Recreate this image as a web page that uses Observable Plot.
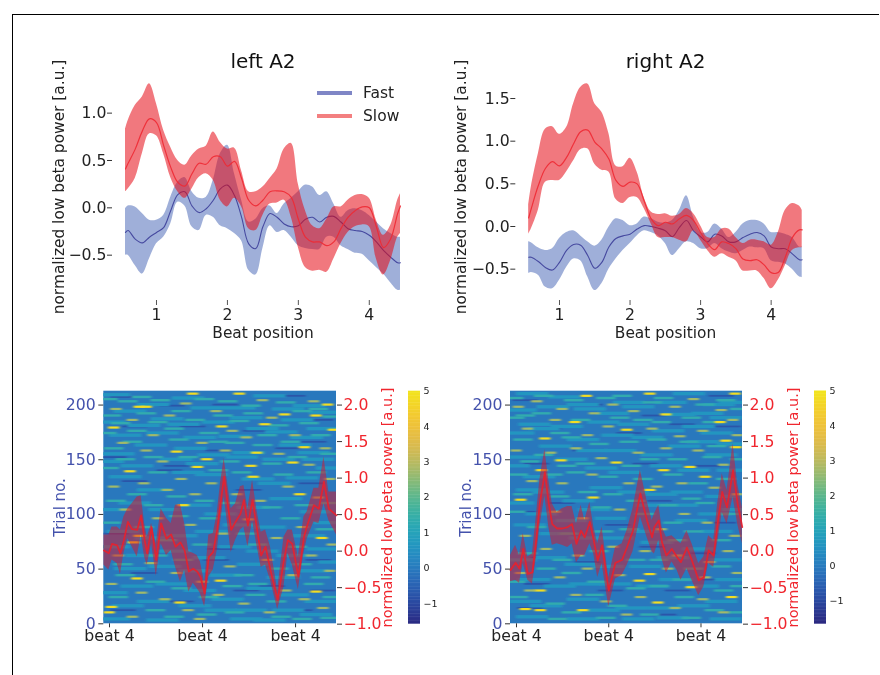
<!DOCTYPE html>
<html><head><meta charset="utf-8">
<script src="https://cdn.jsdelivr.net/npm/d3@7"></script>
<script src="https://cdn.jsdelivr.net/npm/@observablehq/plot@0.6"></script>
<style>
html,body{margin:0;padding:0;background:#fff;}
#page{position:relative;width:880px;height:675px;overflow:hidden;font-family:"DejaVu Sans",sans-serif;filter:blur(0.5px);}
#rule{position:absolute;left:12px;top:14px;width:866px;height:661px;border-top:1px solid #000;border-left:1px solid #000;}
.panel{position:absolute;}
.panel svg{display:block;overflow:visible;}
.lg{position:absolute;font-size:15.5px;color:#222;line-height:18px;}
.sw{position:absolute;height:4px;width:35px;}
</style></head><body>
<div id="page"><div id="rule"></div></div>
<script>
// ---------- top panels: beat position grid ----------
const beatGrid=[.563,.6,.7,.8,.9,1,1.1,1.2,1.3,1.4,1.5,1.6,1.7,1.8,1.9,2,2.1,2.2,2.3,2.4,2.5,2.6,2.7,2.8,2.9,3,3.1,3.2,3.3,3.4,3.5,3.6,3.7,3.8,3.9,4,4.1,4.2,4.3,4.4,4.44];
const leftSlow=[.41,.47,.62,.81,.94,.90,.66,.43,.27,.23,.36,.47,.46,.54,.54,.44,.49,.31,.08,.02,.08,.17,.18,.17,.11,-.12,-.31,-.36,-.36,-.40,-.36,-.22,-.10,-.03,.01,0,-.20,-.42,-.33,-.06,.02];
const leftSlowHi=[.83,.92,1.08,1.17,1.31,1.10,.82,.64,.50,.45,.55,.62,.65,.80,.69,.62,.63,.39,.17,.17,.22,.31,.41,.62,.68,.25,-.03,-.19,-.22,-.12,.01,.01,.08,.13,.14,.10,-.13,-.29,-.19,.08,.15];
const leftSlowLo=[.17,.20,.31,.57,.78,.76,.57,.32,.17,.10,.20,.32,.36,.29,.08,.01,.10,.01,-.22,-.24,-.08,.04,.05,.08,-.10,-.42,-.63,-.67,-.66,-.68,-.54,-.38,-.26,-.20,-.18,-.20,-.54,-.71,-.56,-.31,-.27];
const leftFast=[-.26,-.24,-.33,-.37,-.31,-.26,-.21,-.03,.14,.17,.02,-.05,-.01,.08,.20,.24,.13,-.10,-.38,-.43,-.20,-.06,-.10,-.17,-.20,-.19,-.12,-.10,-.15,-.10,-.09,-.15,-.22,-.24,-.25,-.29,-.36,-.45,-.52,-.58,-.58];
const leftFastHi=[-.01,.02,.01,-.06,-.13,-.13,-.08,.11,.27,.32,.17,.10,.11,.29,.57,.66,.36,.08,-.15,-.12,-.01,.02,-.06,.04,.10,.17,.24,.22,.13,.17,.04,-.10,-.03,-.01,-.03,-.08,-.15,-.22,-.27,-.31,-.31];
const leftFastLo=[-.50,-.50,-.61,-.70,-.54,-.38,-.31,-.17,.06,.02,-.20,-.24,-.08,-.10,-.19,-.22,-.27,-.35,-.66,-.71,-.43,-.19,-.26,-.24,-.31,-.40,-.43,-.44,-.44,-.31,-.31,-.40,-.44,-.48,-.49,-.56,-.63,-.70,-.79,-.87,-.87];

const rightSlow=[.10,.21,.48,.68,.76,.71,.81,.97,1.11,1.13,.99,.91,.79,.54,.47,.52,.50,.30,.09,.01,.05,.03,.09,.13,.07,-.07,-.20,-.27,-.18,-.20,-.26,-.38,-.40,-.39,-.45,-.54,-.54,-.36,-.13,-.04,-.04];
const rightSlowHi=[.25,.46,.85,1.14,1.17,1.08,1.16,1.44,1.63,1.67,1.44,1.34,1.09,.71,.70,.80,.64,.34,.17,.14,.15,.12,.14,.21,.15,.01,-.13,-.13,-.03,-.03,-.13,-.20,-.16,-.16,-.18,-.22,-.07,.19,.27,.24,.19];
const rightSlowLo=[-.09,-.03,.19,.52,.54,.54,.64,.77,.90,.91,.73,.66,.64,.32,.27,.34,.34,.21,.03,-.13,-.13,-.13,-.16,-.18,-.05,-.16,-.28,-.36,-.32,-.36,-.40,-.52,-.52,-.52,-.61,-.73,-.63,-.46,-.28,-.25,-.25];
const rightFast=[-.36,-.36,-.41,-.48,-.51,-.42,-.28,-.21,-.22,-.34,-.49,-.42,-.24,-.14,-.11,-.09,-.03,.01,0,-.02,-.05,-.12,-.01,.07,-.05,-.12,-.18,-.09,-.11,-.18,-.18,-.13,-.09,-.07,-.11,-.24,-.26,-.26,-.32,-.39,-.39];
const rightFastHi=[-.18,-.19,-.25,-.28,-.26,-.14,-.07,-.05,-.11,-.18,-.23,-.16,-.01,.09,.07,.01,.03,.11,.09,.05,.04,.07,.19,.36,.11,-.07,-.07,.03,-.03,-.13,-.07,.03,.07,.07,.03,-.07,-.07,-.09,-.13,-.24,-.24];
const rightFastLo=[-.55,-.54,-.57,-.71,-.73,-.63,-.48,-.38,-.40,-.59,-.75,-.67,-.50,-.38,-.28,-.20,-.11,-.05,-.07,-.11,-.20,-.34,-.26,-.18,-.20,-.26,-.26,-.20,-.26,-.30,-.32,-.28,-.24,-.25,-.26,-.40,-.42,-.44,-.50,-.59,-.60];

// ---------- bottom panels: power curve over trials ----------
const lowerLeftBeats=[3.76,3.97,4.11,4.33,4.47,4.62,4.79,4.97,5.19,5.36,5.51,5.62,5.81,6.01,6.22,6.45,6.65,6.84,7.05,7.23,7.41,7.60,7.77,7.91,8.09,8.27,8.46,8.63,8.77,8.93,9.06,9.23,9.42,9.63,9.78,9.95,10.15,10.35,10.52,10.71,10.92,11.23,11.50,11.67,11.86,12.12,12.36,12.50,12.79,13.00,13.22,13.43,13.76];
const lowerLeftPower=[.01,-.03,.10,.08,-.03,.15,.40,.30,.29,.49,.15,-.03,.33,-.12,.38,.17,.23,.06,.12,.01,-.28,-.24,-.28,-.35,-.58,-.08,-.01,.29,.65,1.02,.70,.29,.40,.51,.70,.35,.70,.29,-.06,.06,-.26,-.67,-.12,.15,.10,-.35,.19,.35,.63,.58,.95,.58,.49];
const lowerLeftHi=[.22,.22,.33,.33,.29,.47,.58,.65,.74,.76,.38,.19,.38,.10,.58,.45,.38,.63,.64,.38,-.01,-.03,-.06,-.15,-.44,.22,.24,.51,.92,1.27,.97,.58,.65,.88,.90,.58,.97,.54,.26,.29,.06,-.54,.19,.29,.29,-.08,.47,.54,.86,.86,1.29,.81,.81];
const lowerLeftLo=[-.19,-.26,-.12,-.17,-.32,-.03,.17,.06,-.08,.22,-.08,-.19,.10,-.34,.10,-.06,.01,-.22,-.42,-.26,-.56,-.44,-.51,-.58,-.76,-.35,-.26,.01,.38,.74,.42,-.02,.15,.29,.33,.06,.42,.06,-.22,-.19,-.40,-.80,-.49,-.03,-.19,-.53,-.03,.17,.40,.38,.65,.42,.22];

const lowerRightBeats=[3.74,3.96,4.13,4.29,4.49,4.69,4.87,5.01,5.23,5.40,5.55,5.76,5.98,6.22,6.41,6.60,6.80,6.96,7.18,7.35,7.52,7.71,8.0,8.29,8.58,8.79,9.05,9.37,9.66,9.88,9.98,10.17,10.31,10.50,10.74,10.96,11.13,11.39,11.61,11.90,12.12,12.33,12.55,12.74,12.92,13.13,13.39,13.59,13.79];
const lowerRightPower=[-.26,-.16,-.24,.03,-.31,-.29,.19,.65,1.08,.65,.37,.31,.31,.33,.37,.10,.28,.19,.40,.15,-.13,.08,-.54,-.16,-.12,.05,.28,.79,.42,.19,.33,.42,.12,-.06,.03,-.08,-.15,.05,-.13,-.40,-.36,.01,-.06,.42,.81,.60,1.11,.65,.33];
const lowerRightHi=[-.06,.08,-.06,.24,-.08,-.04,.51,.97,1.39,.97,.65,.53,.58,.61,.61,.37,.63,.42,.67,.33,.10,.33,-.36,.05,.10,.28,.58,1.11,.69,.42,.51,.63,.33,.19,.21,.15,.10,.28,.10,-.17,-.08,.21,.15,.69,1.06,.83,1.47,.92,.60];
const lowerRightLo=[-.42,-.40,-.44,-.17,-.40,-.45,-.08,.33,.76,.33,.08,.10,.08,.05,.10,-.16,-.06,-.06,.10,-.04,-.36,-.17,-.76,-.38,-.33,-.20,-.01,.47,.19,-.01,-.04,.15,-.11,-.30,-.15,-.26,-.40,-.24,-.40,-.61,-.49,-.17,-.22,.15,.53,.37,.74,.37,.10];

// ---------- trial image: streaks, [beat, trial] ----------
const leftHot=[[6.9,157],[7.6,210],[8.8,39],[9.6,210],[11.9,147],[8.2,150],[10.1,144],[7.05,19],[5.6,198],[8.85,180],[10.7,182],[4.1,15],[4.2,179],[13.4,200],[11.55,191],[7.8,143],[4,10],[5.2,41],[10.35,156],[12.9,29],[4.9,139],[5.3,80],[13.15,78],[7.2,108],[13.65,177],[5.3,198],[12.9,190],[10.2,134],[12.4,161],[5.05,74],[12.2,118]];
const leftWarm=[[4.3,196],[5,186],[5.9,172],[6.6,190],[7.3,201],[8.6,194],[9.3,176],[10.6,204],[11,188],[12,172],[12.8,203],[13.3,160],[4.6,165],[5.6,158],[6.3,148],[7.1,132],[8,165],[9,158],[9.9,170],[11.3,155],[12.6,145],[13.5,132],[4.2,125],[5.5,128],[6.5,122],[7.7,118],[8.4,128],[9.5,118],[10.5,112],[11.7,125],[13,115],[4.7,104],[6.1,96],[7.5,90],[8.9,82],[10,95],[11.2,78],[12.3,88],[13.6,72],[4.4,62],[5.8,55],[6.9,46],[8,38],[9.2,52],[10.8,58],[11.9,44],[12.7,62],[13.5,48],[4.1,36],[5.4,28],[6.4,22],[7.4,12],[8.7,26],[9.8,18],[10.9,10],[11.6,30],[12.4,22],[13.2,14],[5,6],[7.9,4]];
const leftTeal=[[3.95,205],[4.8,203],[5.4,207],[6.2,204],[8.1,205],[9.1,203],[10.1,199],[11.6,202],[13,196],[4.1,190],[5.6,192],[7.1,194],[8.9,190],[10.2,192],[12.3,194],[13.6,189],[4.5,183],[6.1,184],[7.7,186],[9.6,185],[11.3,181],[12.6,183],[3.9,174],[5.2,176],[6.8,178],[8.3,174],[10.8,172],[11.8,166],[13.1,172],[4.2,160],[5,166],[7,168],[8.7,166],[9.4,165],[10.6,163],[13.5,155],[4.7,150],[5.9,152],[7.4,152],[9.2,148],[11,146],[12.1,152],[4,142],[6.1,138],[8.7,140],[9.7,138],[11.5,136],[12.9,138],[5.2,118],[6.9,116],[8.1,112],[9.2,110],[11,106],[12.4,108],[13.5,110],[4.3,112],[5.9,108],[7,98],[8.3,96],[9.9,82],[11.8,96],[4.1,92],[5.5,88],[6.5,76],[8,72],[10.4,72],[12.1,70],[13.3,86],[4.6,54],[6.1,62],[7.2,58],[9.8,44],[10.4,36],[11.3,50],[12.3,54],[13.1,42],[4.7,44],[6,38],[7.1,32],[8.3,24],[9.3,34],[10.3,26],[11.2,20],[12.8,36],[13.6,24],[4.4,24],[6,12],[8.2,8],[9.4,10],[11.4,6],[12.3,4],[13.5,5],[6.8,6]];
const leftMid=[[4.2,209],[5.9,200],[7.4,206],[9.6,197],[10.9,208],[12.6,199],[4.9,194],[6.5,187],[8.2,197],[9.9,188],[11.7,196],[13.3,193],[4,184],[5.5,181],[7.2,182],[8.7,184],[10.6,178],[12.1,186],[13.2,178],[4.7,172],[6.3,174],[7.9,170],[9.4,171],[11.4,175],[12.5,170],[4.4,155],[5.8,163],[7.5,160],[8.5,154],[10,156],[12,163],[13,150],[3.95,148],[5.2,144],[6.9,150],[8,146],[9.7,152],[11.3,150],[12.8,156],[4.7,134],[5.9,122],[7.4,138],[8.4,136],[10.4,132],[11.1,128],[12.3,133],[13.6,142],[4.1,104],[5.1,110],[6.4,104],[7.7,108],[8.8,100],[10.2,106],[11.6,114],[12.9,102],[4.6,84],[5.8,78],[7.1,80],[8.4,84],[9.6,90],[10.9,88],[12.6,80],[13.5,92],[4.2,70],[5.4,62],[6.8,66],[8.3,60],[9.4,70],[10.6,66],[11.9,62],[13.2,68],[4.9,50],[6.4,52],[7.7,48],[9,44],[10.2,54],[11.5,42],[12.8,48],[13.7,56],[4.1,28],[5.2,34],[6.7,36],[7.9,30],[9.1,22],[10.6,32],[11.9,26],[13.1,20],[4.8,16],[5.9,20],[7.7,16],[8.8,12],[10.1,12],[11.7,12],[12.9,8],[4.2,4],[6.3,3],[9.9,4],[10.9,3]];
const leftDark=[[4.6,207],[6.7,199],[9,200],[11.9,208],[13.1,186],[5.1,180],[7.6,180],[10.3,176],[12.8,166],[4.2,152],[6.6,140],[8.7,158],[11.7,160],[5.1,130],[6.9,144],[10,122],[12.7,128],[4.3,82],[8.8,68],[13,58],[5.5,46],[8.6,58],[11,34],[4.6,12],[7.1,20],[9.9,30],[12.2,12],[13.2,30]];

const rightHot=[[5.25,169],[6.55,184],[9.8,210],[10.5,191],[11.55,143],[9.8,122],[4.2,113],[10.15,19],[4.4,13],[9.8,45],[13.5,210],[12.85,184],[6.9,12],[5.95,149],[5.1,140],[8.8,177],[8.35,147],[9.35,39],[13.1,167],[7.35,115],[5.05,12],[13.35,24],[10.4,140],[5.05,30],[12.2,134],[7.05,208],[11.6,33],[13.55,161]];
const rightWarm=[[4.1,198],[4.9,203],[6,196],[7.4,192],[8.2,200],[9.1,194],[10.9,198],[11.7,205],[12.9,195],[13.4,186],[4.5,178],[5.7,186],[7.1,172],[8,180],[9.9,178],[11.1,171],[12.1,176],[13.6,172],[4,158],[5.5,156],[6.6,160],[7.7,151],[9.3,156],[10.5,160],[11.9,158],[13,145],[4.7,130],[6,128],[7.3,136],[8.9,128],[10.1,125],[11.2,128],[12.6,124],[13.6,118],[5.7,102],[6.9,96],[8.5,104],[10.3,86],[11.3,100],[12.3,92],[13.5,80],[4.4,80],[5.3,68],[6.7,62],[8.2,70],[9.6,66],[11,62],[12.4,56],[13.2,66],[4.2,46],[5.9,42],[7.1,50],[8.5,44],[10.6,50],[12.2,42],[13.6,46],[4.6,30],[6.6,26],[7.9,20],[9.4,24],[10.9,14],[12.1,22],[13,10],[8.8,8]];
const rightTeal=[[3.9,206],[4.4,190],[5.2,208],[6.5,204],[7.9,206],[8.6,208],[9.9,202],[10.4,206],[12.2,200],[13.1,204],[3.95,188],[5.1,192],[6.8,186],[8.5,188],[9.5,186],[10.3,184],[11.6,188],[12.5,184],[13.7,196],[4.3,168],[5.9,174],[6.4,170],[7.6,164],[8.9,166],[10.1,168],[11.5,166],[12.7,162],[13.7,150],[4.6,148],[5.2,154],[6.2,144],[7,146],[9,144],[9.8,150],[11,150],[12.5,152],[4.1,136],[5.6,136],[6.6,138],[8,134],[9.5,132],[10.8,136],[11.9,128],[13.1,132],[4.3,118],[5.9,116],[7.1,120],[8.2,118],[9.2,112],[10.6,108],[11.6,114],[12.2,110],[4,102],[7.7,106],[9.6,100],[10.8,92],[11.7,84],[13.3,100],[4.9,88],[6.3,82],[7.8,84],[8.9,86],[11,76],[12.9,76],[4.5,64],[6,58],[7.6,66],[9.2,58],[10.2,58],[11.7,50],[12.9,52],[4,38],[5.3,50],[6.4,46],[7.5,38],[9.2,32],[10.2,34],[11.2,40],[13,30],[13.7,34],[4.1,24],[5.7,18],[6.4,10],[7.4,26],[8.4,16],[9.8,8],[11.3,24],[12.6,12],[13.6,10],[5.8,4],[7.9,5],[11.6,5]];
const rightMid=[[4.7,210],[6.1,207],[7.2,196],[8.9,202],[10.7,202],[11.5,210],[12.8,200],[4.2,195],[5.6,198],[6.9,200],[8.2,192],[9.3,198],[11.1,191],[12.3,192],[13.5,202],[4.8,182],[6.2,180],[7.8,184],[9.1,182],[10.6,176],[11.9,180],[13.1,188],[4.1,174],[5.2,178],[6.9,168],[8.4,172],[9.7,170],[11.3,162],[12.7,174],[13.4,164],[4.4,152],[5.7,162],[7.3,158],[8.5,158],[10.1,154],[12.1,166],[12.9,154],[3.9,144],[5,134],[6.4,150],[7.7,142],[8.7,138],[10.5,144],[11.7,140],[13.4,140],[4.7,122],[5.4,120],[6.7,112],[7.9,124],[9.1,120],[10.3,118],[11.4,120],[12.9,116],[4.1,110],[5.1,100],[6.4,94],[7.4,104],[8.1,96],[9.9,108],[11.2,108],[12.6,100],[13.6,104],[4.6,90],[5.7,82],[7,78],[8.4,78],[9.5,84],[10.1,74],[11.6,94],[12.7,84],[4.2,58],[5.5,60],[6.8,54],[8,52],[9.6,52],[10.8,60],[11.9,68],[13.1,58],[4.8,40],[5.9,34],[7,36],[8.3,36],[9.9,34],[10.9,40],[12.1,34],[13.3,40],[4.4,20],[5.3,16],[6.9,22],[7.8,12],[9,14],[10.4,14],[11.7,16],[12.9,20],[4.7,6],[6.9,4],[9.3,4],[10.8,5],[13.1,4]];
const rightDark=[[4.4,204],[7.2,200],[10,190],[12.9,208],[5.4,178],[8.9,174],[11.2,182],[13.2,180],[4.9,146],[7,158],[9.6,146],[12.3,144],[4.3,102],[6,110],[8.4,90],[10.2,112],[13,92],[5.2,60],[7.1,56],[9.9,70],[12.1,64],[4.9,36],[8.1,30],[11,30],[12.6,40],[4.6,14],[7.6,12],[10.4,8]];

const titles=["left A2","right A2"];
const yLabel="normalized low beta power [a.u.]";
const xLabel="Beat position";
const trialLabel="Trial no.";
const trialTicks=[0,50,100,150,200];
const powerTicks=[-1,-.5,0,.5,1,1.5,2];
const beatTicks=[4,8,12];
const topBeatTicks=[1,2,3,4];
const colorTicks=[-1,0,1,2,3,4,5];
const levels={base:-.08,dark:-.8,mid:.6,teal:1.3,warm:2.7,hot:4.8};

const page=document.getElementById("page");
const font='"DejaVu Sans",sans-serif';
const parula=["#2b2a82","#2a55ae","#2a80c2","#1ea2c2","#3cb59c","#93bc72","#dcb850","#f6c333","#f2e61c"];
const fastFill="#3f60b4",slowFill="#e60a14",fastLine="#3d3f9a",slowLine="#ee2a34",ink="#222",blueText="#4452ac",redText="#f0262e";
const fmt1=d3.format(".1f");
function place(el,left,top){const w=document.createElement("div");w.className="panel";w.style.left=left+"px";w.style.top=top+"px";w.appendChild(el);page.appendChild(w);}

function topPanel(o){
  const rows=beatGrid.map((x,i)=>({x,slow:o.slow[i],slowHi:o.slowHi[i],slowLo:o.slowLo[i],fast:o.fast[i],fastHi:o.fastHi[i],fastLo:o.fastLo[i]}));
  const curve="catmull-rom";
  return Plot.plot({
    width:400,height:310,marginLeft:o.ml,marginRight:o.mr,marginTop:43,marginBottom:60,
    style:{fontFamily:font,background:"transparent",color:ink},
    x:{domain:o.xd,axis:null},y:{domain:o.yd,axis:null},
    marks:[
      Plot.areaY(rows,{x:"x",y1:"fastLo",y2:"fastHi",fill:fastFill,fillOpacity:.5,curve}),
      Plot.lineY(rows,{x:"x",y:"fast",stroke:fastLine,strokeWidth:1.1,strokeOpacity:.9,curve}),
      Plot.areaY(rows,{x:"x",y1:"slowLo",y2:"slowHi",fill:slowFill,fillOpacity:.55,curve}),
      Plot.lineY(rows,{x:"x",y:"slow",stroke:slowLine,strokeWidth:1.2,strokeOpacity:.9,curve}),
      Plot.ruleX(topBeatTicks,{x:d=>d,stroke:"#555",insetTop:217,insetBottom:-15}),
      Plot.axisX({ticks:topBeatTicks,tickFormat:d=>String(d),tickSize:0,tickPadding:8,dy:10,fontSize:15.7,fill:ink,label:null}),
      Plot.axisY({ticks:o.yt,tickFormat:d=>fmt1(d),tickSize:5,tickPadding:1,dx:-13,fontSize:15.7,stroke:"#333",fill:ink,label:null}),
      Plot.text([o.title],{frameAnchor:"top",dy:-30,fontSize:20,fill:"#111"}),
      Plot.text([xLabel],{frameAnchor:"bottom",dy:47,fontSize:15.4,fill:ink}),
      Plot.text([yLabel],{frameAnchor:"left",textAnchor:"middle",rotate:-90,dx:o.ylx,fontSize:15.4,fill:ink})
    ]
  });
}

let filterCount=0;
function lowerPanel(o){
  const rows=o.beats.map((x,i)=>({x,p:o.power[i],hi:o.hi[i],lo:o.lo[i]}));
  const yd=[-.995,2.19];
  const t2p=t=>-.995+t*(2.995/200);
  const streak=(list,value,len,h)=>Plot.rect(list,{
    x1:d=>d[0]-len,x2:d=>d[0]+len,y1:d=>t2p(d[1]-h),y2:d=>t2p(d[1]+h),
    fill:()=>value,clip:true});
  const svg=Plot.plot({
    width:o.w,height:270,marginLeft:o.ml,marginRight:o.mr,marginTop:10.7,marginBottom:26.7,
    style:{fontFamily:font,background:"transparent",color:ink},
    x:{domain:o.xd,axis:null},y:{domain:yd,axis:null},
    color:{type:"linear",domain:[-1.6,5],interpolate:d3.interpolateRgbBasis(parula)},
    marks:[
      Plot.rect([levels.base],{x1:o.xd[0],x2:o.xd[1],y1:yd[0],y2:yd[1],fill:d=>d}),
      streak(o.dark,levels.dark,.55,.8),
      streak(o.mid,levels.mid,.7,1.5),
      streak(o.teal,levels.teal,.42,1.1),
      streak(o.warm,levels.warm,.24,1),
      streak(o.hot,levels.hot,.24,1),
      Plot.areaY(rows,{x:"x",y1:"lo",y2:"hi",fill:"#dc1428",fillOpacity:.5}),
      Plot.lineY(rows,{x:"x",y:"p",stroke:"#e8202e",strokeWidth:1.8,strokeOpacity:.9}),
      Plot.axisX({ticks:beatTicks,tickFormat:()=>"beat 4",tickSize:4,tickPadding:2,fontSize:15.7,stroke:"#333",fill:ink,label:null}),
      Plot.axisY({anchor:"left",ticks:trialTicks.map(t2p),tickFormat:p=>String(Math.round((p+.995)*200/2.995)),tickSize:5,tickPadding:3,fontSize:15.7,stroke:"#333",fill:blueText,label:null}),
      Plot.axisY({anchor:"right",ticks:powerTicks,tickFormat:d=>fmt1(d),tickSize:5,tickPadding:2,fontSize:15.7,stroke:"#333",fill:redText,label:null}),
      Plot.text([trialLabel],{frameAnchor:"left",textAnchor:"middle",rotate:-90,dx:-44,fontSize:15,fill:blueText}),
      Plot.text([yLabel],{frameAnchor:"right",textAnchor:"middle",rotate:-90,dx:o.rlx,fontSize:14.5,fill:redText})
    ]
  });
  const id="soft"+(++filterCount);
  const ns="http://www.w3.org/2000/svg";
  const f=document.createElementNS(ns,"filter");f.setAttribute("id",id);
  f.setAttribute("x","-5%");f.setAttribute("y","-5%");f.setAttribute("width","110%");f.setAttribute("height","110%");
  const b=document.createElementNS(ns,"feGaussianBlur");b.setAttribute("stdDeviation","1.8 0.55");f.appendChild(b);
  const defs=document.createElementNS(ns,"defs");defs.appendChild(f);svg.insertBefore(defs,svg.firstChild);
  [...svg.querySelectorAll("g")].filter(g=>g.querySelectorAll(":scope > rect").length>1).forEach(g=>g.setAttribute("filter",`url(#${id})`));
  return svg;
}

function colorBar(low){
  const step=.04,ramp=d3.range(low,5,step);
  return Plot.plot({
    width:40,height:270,marginLeft:6,marginRight:22,marginTop:10.7,marginBottom:26.3,
    style:{fontFamily:font,background:"transparent",color:ink},
    x:{domain:[0,1],axis:null},y:{domain:[low,5],axis:null},
    color:{type:"linear",domain:[-1.6,5],interpolate:d3.interpolateRgbBasis(parula)},
    marks:[
      Plot.rect(ramp,{x1:0,x2:1,y1:d=>d,y2:d=>Math.min(5,d+step*1.3),fill:d=>d}),
      Plot.axisY({anchor:"right",ticks:colorTicks,tickFormat:d=>d<0?"\u2212"+(-d):String(d),tickSize:0,tickPadding:3,fontSize:9.5,fill:"#222",label:null})
    ]
  });
}

place(topPanel({title:titles[0],ml:105,mr:20,xd:[.563,4.44],yd:[-.873,1.313],yt:[-.5,0,.5,1],ylx:-66.7,
  slow:leftSlow,slowHi:leftSlowHi,slowLo:leftSlowLo,fast:leftFast,fastHi:leftFastHi,fastLo:leftFastLo}),20,40);
place(topPanel({title:titles[1],ml:88.3,mr:38.3,xd:[.565,4.44],yd:[-.75,1.676],yt:[-.5,0,.5,1,1.5],ylx:-67.6,
  slow:rightSlow,slowHi:rightSlowHi,slowLo:rightSlowLo,fast:rightFast,fastHi:rightFastHi,fastLo:rightFastLo}),440,40);
place(lowerPanel({w:360,ml:63.3,mr:64,xd:[3.755,13.76],rlx:50.7,beats:lowerLeftBeats,power:lowerLeftPower,hi:lowerLeftHi,lo:lowerLeftLo,hot:leftHot,warm:leftWarm,teal:leftTeal,mid:leftMid,dark:leftDark}),40,380);
place(lowerPanel({w:360,ml:60,mr:68,xd:[3.74,13.8],rlx:50.7,beats:lowerRightBeats,power:lowerRightPower,hi:lowerRightHi,lo:lowerRightLo,hot:rightHot,warm:rightWarm,teal:rightTeal,mid:rightMid,dark:rightDark}),450,380);
place(colorBar(-1.58),402,380);
place(colorBar(-1.65),808,380);

// legend
[["Fast","#7f86c6",93.3],["Slow","#f37f80",116]].forEach(([t,c,y])=>{
  const s=document.createElement("div");s.className="sw";s.style.cssText+=`left:317px;top:${y-2}px;background:${c}`;page.appendChild(s);
  const l=document.createElement("div");l.className="lg";l.textContent=t;l.style.left="363px";l.style.top=(y-9.5)+"px";page.appendChild(l);
});
</script></body></html>
